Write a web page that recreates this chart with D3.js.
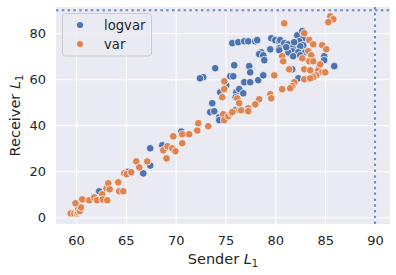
<!DOCTYPE html>
<html><head><meta charset="utf-8">
<script src="https://cdn.jsdelivr.net/npm/d3@7"></script>
<style>body{margin:0;background:#fff}svg{display:block}text{font-family:"DejaVu Sans",sans-serif;fill:#262626}</style>
</head><body><svg id="c" width="396" height="275"></svg>
<script>
const seriesNames = ["logvar", "var"];
const seriesColors = ["#4C72B0", "#DD8452"];
const xTicks = [60, 65, 70, 75, 80, 85, 90];
const yTicks = [0, 20, 40, 60, 80];
const refX = 90, refY = 90;
const logvarX = [62.34,65.22,66.75,67.45,67.45,68.66,70.56,73.67,73.47,73.87,74.37,74.37,74.47,75.07,76.08,76.38,76.78,75.98,75.68,76.28,76.88,77.28,77.98,78.18,79.59,79.99,80.39,80.39,79.49,78.59,78.38,78.79,78.89,73.97,75.88,77.38,77.48,72.77,72.44,75.48,75.78,76.88,77.48,78.28,78.79,76.02,80.49,80.89,81.29,81.79,82.30,82.20,82.70,82.80,82.40,82.80,82.50,81.89,81.69,81.29,81.09,82.30,83.00,81.79,82.50,80.39,84.90,84.90,84.40,85.91,81.69,83.90,82.30,84.14];
const logvarY = [11.3,19.8,19.1,22.5,30.0,31.3,37.3,49.6,45.7,46.1,43.5,42.2,54.3,57.4,54.3,55.7,53.9,46.5,75.7,76.1,76.5,76.5,76.5,77.0,77.8,77.0,76.5,73.5,73.0,71.7,70.9,70.4,68.3,64.8,66.1,65.7,63.0,60.9,60.4,61.3,61.3,58.7,58.7,59.6,61.7,52.2,77.0,75.7,75.2,73.9,75.2,79.1,80.9,77.8,76.5,74.8,74.3,76.1,72.2,71.7,73.9,71.7,71.7,70.0,70.4,72.6,70.0,68.3,65.2,65.7,64.3,62.2,60.4,61.7];
const varX = [59.70,59.47,59.83,60.10,60.20,60.23,60.40,60.50,59.95,60.63,61.33,61.84,62.11,62.64,62.68,63.06,63.24,63.14,63.38,64.24,64.34,64.74,64.84,65.09,65.55,66.05,66.35,67.15,68.76,69.08,69.18,69.66,69.98,69.76,70.66,70.66,71.36,72.17,72.27,73.27,74.77,74.87,75.28,75.58,76.38,76.58,77.28,77.28,76.18,76.38,74.67,74.87,74.87,79.89,79.49,79.59,78.38,77.98,80.89,85.51,85.81,85.31,82.90,83.40,83.80,84.70,85.11,83.30,83.60,83.40,83.80,82.70,80.69,80.79,81.39,82.90,83.50,84.30,84.50,84.70,85.00,84.10,83.80,82.90,81.90,81.69,81.49,80.69,75.68,83.50];
const varY = [1.7,1.7,1.7,1.7,2.3,3.9,2.7,4.3,6.1,7.8,7.4,8.7,7.4,10.0,7.8,12.6,14.8,7.4,12.2,15.2,11.3,11.3,19.1,18.7,19.6,24.3,21.7,24.3,29.1,25.6,30.9,30.0,28.7,35.2,32.2,36.1,36.1,37.7,40.9,39.6,44.8,42.2,43.9,45.2,46.5,46.5,47.4,46.1,51.7,49.6,52.2,55.7,59.1,61.7,53.5,51.7,51.3,49.1,84.3,87.4,86.1,84.8,80.0,77.0,75.2,74.8,73.0,72.2,70.4,67.8,67.8,69.1,70.0,67.8,64.3,64.3,63.9,63.9,66.5,63.0,63.0,61.7,60.9,60.0,58.7,57.0,56.1,55.7,45.7,60.4];

const svg = d3.select("#c");
const L = 56, R = 390, T = 7, B = 224;
const x = d3.scaleLinear().domain([58.0, 91.5]).range([L, R]);
const y = d3.scaleLinear().domain([-2.9, 91.4]).range([B, T]);

svg.append("rect").attr("x", L).attr("y", T).attr("width", R - L).attr("height", B - T).attr("fill", "#EAEAF2");

const gx = svg.append("g").attr("transform", `translate(0,${B})`)
  .call(d3.axisBottom(x).tickValues(xTicks).tickSize(-(B - T)).tickPadding(11.5).tickFormat(d3.format("d")));
const gy = svg.append("g").attr("transform", `translate(${L},0)`)
  .call(d3.axisLeft(y).tickValues(yTicks).tickSize(-(R - L)).tickPadding(10).tickFormat(d3.format("d")));
[gx, gy].forEach(g => {
  g.select(".domain").remove();
  g.selectAll(".tick line").attr("stroke", "#fff").attr("stroke-width", 1);
  g.selectAll(".tick text").attr("font-size", 13).attr("fill", "#262626").attr("font-family", "DejaVu Sans");
});

// reference lines
svg.append("line").attr("x1", L).attr("x2", R).attr("y1", y(refY)).attr("y2", y(refY))
  .attr("stroke", "#4C72B0").attr("stroke-opacity", 0.8).attr("stroke-width", 2).attr("stroke-dasharray", "2.5,3.3");
svg.append("line").attr("x1", x(refX)).attr("x2", x(refX)).attr("y1", T).attr("y2", B)
  .attr("stroke", "#4C72B0").attr("stroke-opacity", 0.8).attr("stroke-width", 2).attr("stroke-dasharray", "2.5,3.3");

const series = [
  logvarX.map((v, i) => [v, logvarY[i]]),
  varX.map((v, i) => [v, varY[i]])
];
series.forEach((pts, s) => {
  svg.append("g").selectAll("circle").data(pts).join("circle")
    .attr("cx", d => x(d[0])).attr("cy", d => y(d[1])).attr("r", 3.8)
    .attr("fill", seriesColors[s]).attr("stroke", "#fff").attr("stroke-width", 0.75);
});

// legend
const lg = svg.append("g");
lg.append("rect").attr("x", 62.5).attr("y", 13.5).attr("width", 89).attr("height", 42.5).attr("rx", 3)
  .attr("fill", "#EAEAF2").attr("fill-opacity", 0.8).attr("stroke", "#cccccc").attr("stroke-width", 1);
seriesNames.forEach((n, i) => {
  lg.append("circle").attr("cx", 80).attr("cy", 25 + i * 19).attr("r", 3.6)
    .attr("fill", seriesColors[i]).attr("stroke", "#fff").attr("stroke-width", 0.75);
  lg.append("text").attr("x", 104).attr("y", 29.5 + i * 19).attr("font-size", 13.2).text(n);
});

// axis labels
const xl = svg.append("text").attr("x", (L + R) / 2).attr("y", 263.5).attr("text-anchor", "middle").attr("font-size", 14.5);
xl.append("tspan").text("Sender ");
xl.append("tspan").attr("font-style", "italic").text("L");
xl.append("tspan").attr("font-size", 10).attr("dy", 3).text("1");
const yl = svg.append("text").attr("transform", `translate(20,${(T + B) / 2}) rotate(-90)`).attr("text-anchor", "middle").attr("font-size", 14.5);
yl.append("tspan").text("Receiver ");
yl.append("tspan").attr("font-style", "italic").text("L");
yl.append("tspan").attr("font-size", 10).attr("dy", 3).text("1");
</script></body></html>
